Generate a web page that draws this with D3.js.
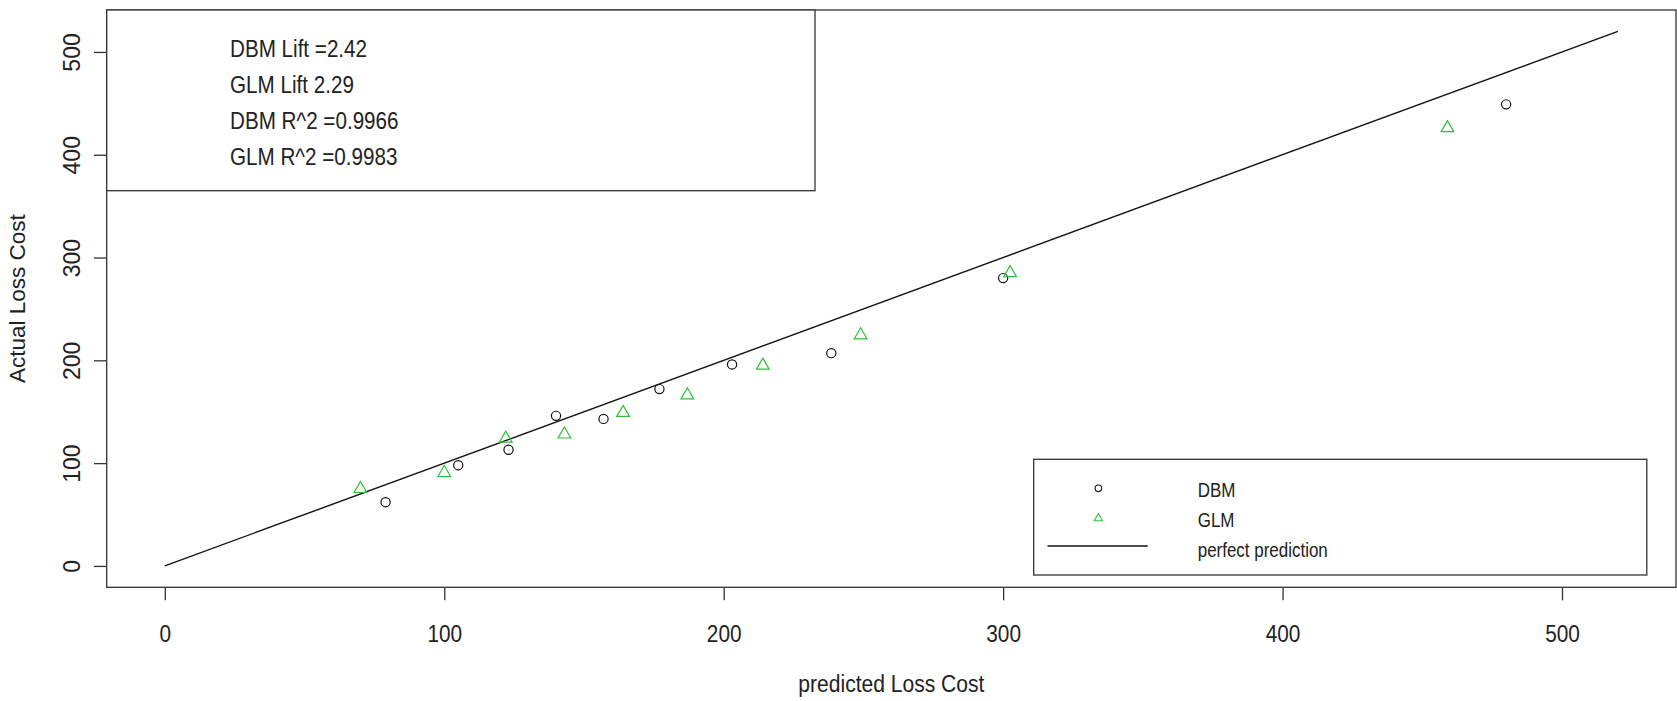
<!DOCTYPE html>
<html lang="en">
<head>
<meta charset="UTF-8">
<title>Predicted vs Actual Loss Cost</title>
<script src="https://d3js.org/d3.v7.min.js"></script>
<style>
    body { margin: 0; background: #fff; }
    svg text { font-family: "Liberation Sans", Arial, sans-serif; fill: #222; }
</style>
</head>
<body>
<svg width="1677" height="701"></svg>
<script>
    // decile averages
    let dbmPred   = [79, 105, 123, 140, 157, 177, 203, 238.5, 300, 480]
    let dbmActual = [62, 98, 113, 146, 143, 172, 196, 207, 280, 449]
    let glmPred   = [70, 100, 122, 143, 164, 187, 214, 249, 302.5, 459]
    let glmActual = [75, 90.5, 124, 128, 149, 166, 195, 224.5, 285, 426]
    let perfectLine = [0, 520]
    let tickValues = [0, 100, 200, 300, 400, 500]
    let statLines = ['DBM Lift =2.42', 'GLM Lift 2.29', 'DBM R^2 =0.9966', 'GLM R^2 =0.9983']
    let legendLabels = ['DBM', 'GLM', 'perfect prediction']

    let green = '#2fbf3a'
    let ink = '#222'

    let svg = d3.select('svg')
    let width = +svg.attr('width')
    let height = +svg.attr('height')
    let margin = {top: 10, right: 1, bottom: 113.7, left: 106.7}
    let w = width - margin.left - margin.right
    let h = height - margin.top - margin.bottom

    // R style axis range: data range padded by 4% on each side
    let pad = (perfectLine[1] - perfectLine[0]) * 0.04
    let dom = [perfectLine[0] - pad, perfectLine[1] + pad]

    let x = d3.scaleLinear().domain(dom).range([0, w])
    let y = d3.scaleLinear().domain(dom).range([h, 0])

    let g = svg.append('g')
        .attr('transform', 'translate(' + margin.left + ',' + margin.top + ')')

    // x axis
    let xAxis = g.append('g')
        .attr('transform', 'translate(0,' + h + ')')
        .call(d3.axisBottom(x).tickValues(tickValues).tickSize(13).tickFormat(d3.format('d')))
    xAxis.select('.domain').remove()
    xAxis.selectAll('line').attr('stroke', '#333').attr('stroke-width', 1.3)
    xAxis.selectAll('text')
        .attr('y', 55).attr('dy', 0)
        .attr('font-size', 24.5)
        .attr('fill', ink)
        .attr('transform', 'scale(0.85,1)')

    // y axis, labels rotated like R's default las=0
    let yAxis = g.append('g')
        .call(d3.axisLeft(y).tickValues(tickValues).tickSize(12.7).tickFormat(d3.format('d')))
    yAxis.select('.domain').remove()
    yAxis.selectAll('line').attr('stroke', '#333').attr('stroke-width', 1.3)
    yAxis.selectAll('text')
        .attr('x', null).attr('dy', null)
        .attr('text-anchor', 'middle')
        .attr('font-size', 23)
        .attr('fill', ink)
        .attr('transform', 'translate(-26.7,0) rotate(-90)')

    // perfect prediction line
    g.append('line')
        .attr('x1', x(perfectLine[0])).attr('y1', y(perfectLine[0]))
        .attr('x2', x(perfectLine[1])).attr('y2', y(perfectLine[1]))
        .attr('stroke', '#111').attr('stroke-width', 1.4)

    // DBM points
    g.append('g').selectAll('circle')
        .data(dbmPred)
        .enter()
        .append('circle')
        .attr('cx', function(d) { return x(d) })
        .attr('cy', function(d, i) { return y(dbmActual[i]) })
        .attr('r', 4.6)
        .attr('fill', 'none')
        .attr('stroke', '#111')
        .attr('stroke-width', 1.2)

    // GLM points
    let tri = d3.symbol().type(d3.symbolTriangle).size(70)
    g.append('g').selectAll('path')
        .data(glmPred)
        .enter()
        .append('path')
        .attr('d', tri)
        .attr('transform', function(d, i) { return 'translate(' + x(d) + ',' + y(glmActual[i]) + ')' })
        .attr('fill', 'none')
        .attr('stroke', green)
        .attr('stroke-width', 1.2)

    // frame
    g.append('rect')
        .attr('width', w).attr('height', h)
        .attr('fill', 'none')
        .attr('stroke', '#333')
        .attr('stroke-width', 1.3)

    // stats box top left
    let stats = g.append('g')
    stats.append('rect')
        .attr('width', 708.3).attr('height', 180.7)
        .attr('fill', '#fff')
        .attr('stroke', '#333')
        .attr('stroke-width', 1.3)
    stats.selectAll('text')
        .data(statLines)
        .enter()
        .append('text')
        .attr('font-size', 24)
        .attr('transform', function(d, i) { return 'translate(123.3,' + (46.7 + i * 36.1) + ') scale(0.86,1)' })
        .text(function(d) { return d })

    // legend bottom right
    let leg = g.append('g').attr('transform', 'translate(927,449.3)')
    leg.append('rect')
        .attr('width', 613.1).attr('height', 115.7)
        .attr('fill', '#fff')
        .attr('stroke', '#333')
        .attr('stroke-width', 1.3)
    let rowY = function(i) { return 37.4 + i * 30 }
    leg.append('circle')
        .attr('cx', 64.7).attr('cy', rowY(0) - 8.4)
        .attr('r', 3.3)
        .attr('fill', 'none').attr('stroke', '#111').attr('stroke-width', 1.1)
    leg.append('path')
        .attr('d', d3.symbol().type(d3.symbolTriangle).size(30))
        .attr('transform', 'translate(64.7,' + (rowY(1) - 8.4) + ')')
        .attr('fill', 'none').attr('stroke', green).attr('stroke-width', 1.1)
    leg.append('line')
        .attr('x1', 13.8).attr('x2', 114)
        .attr('y1', rowY(2) - 10.7).attr('y2', rowY(2) - 10.7)
        .attr('stroke', '#111').attr('stroke-width', 1.4)
    leg.selectAll('text')
        .data(legendLabels)
        .enter()
        .append('text')
        .attr('font-size', 19.5)
        .attr('transform', function(d, i) { return 'translate(164,' + rowY(i) + ') scale(0.87,1)' })
        .text(function(d) { return d })

    // axis titles
    svg.append('text')
        .attr('text-anchor', 'middle')
        .attr('font-size', 24.5)
        .attr('transform', 'translate(' + (margin.left + w / 2) + ',692) scale(0.86,1)')
        .text('predicted Loss Cost')

    svg.append('text')
        .attr('text-anchor', 'middle')
        .attr('font-size', 22.5)
        .attr('transform', 'translate(25,' + (margin.top + h / 2) + ') rotate(-90)')
        .text('Actual Loss Cost')
</script>
</body>
</html>
